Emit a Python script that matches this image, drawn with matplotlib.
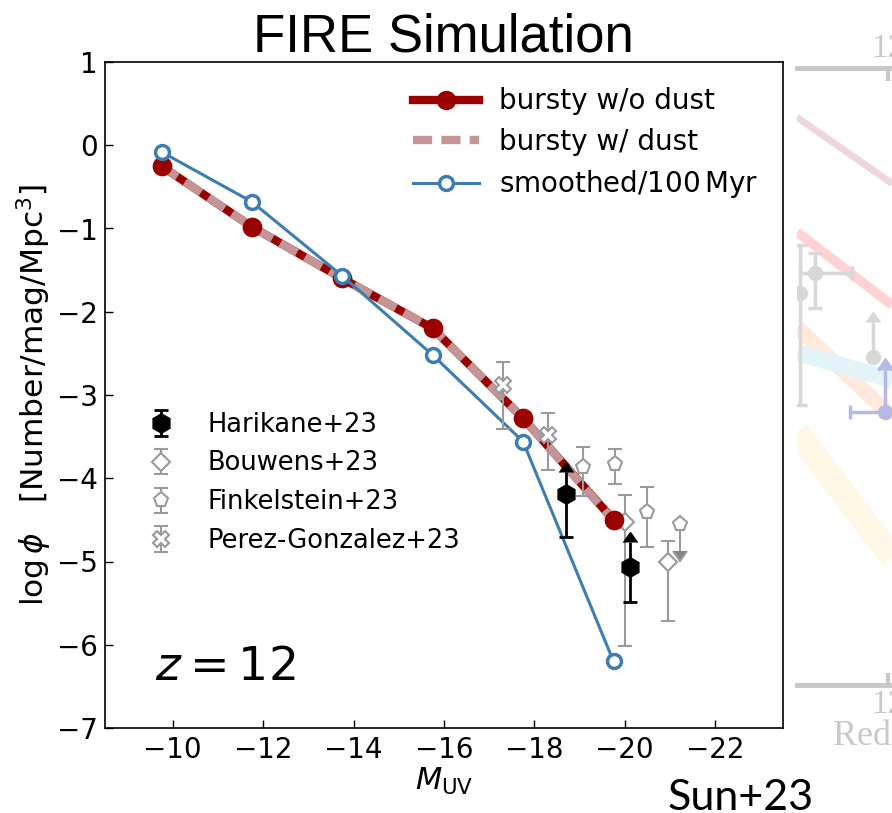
import numpy as np
import matplotlib
matplotlib.use('Agg')
import matplotlib.pyplot as plt

# FIRE model UV luminosity functions at z = 12
muv = [-9.75, -11.75, -13.75, -15.75, -17.75, -19.75]
bursty_nodust = [-0.25, -0.98, -1.60, -2.20, -3.28, -4.50]
bursty_dust = [-0.25, -0.98, -1.60, -2.20, -3.28, -4.51]
smoothed = [-0.08, -0.68, -1.57, -2.52, -3.56, -6.20]

# observations: x, log phi, lower err, upper err
harikane_x = [-18.70, -20.11]
harikane_y = [-4.19, -5.07]
harikane_lo = [0.52, 0.42]
harikane_up = [0.27, 0.30]

bouwens_x = [-20.00, -20.96]
bouwens_y = [-4.52, -5.01]
bouwens_lo = [1.49, 0.70]
bouwens_up = [0.32, 0.26]

finkel_x = [-19.08, -19.79, -20.50, -21.22]
finkel_y = [-3.87, -3.83, -4.41, -4.55]
finkel_lo = [0.34, 0.24, 0.42, 0.32]
finkel_up = [0.25, 0.18, 0.31, 0.0]
finkel_uplim = [False, False, False, True]

pg_x = [-17.30, -18.30]
pg_y = [-2.88, -3.48]
pg_lo = [0.53, 0.42]
pg_up = [0.28, 0.26]

# neighbouring redshift-evolution panel (faded)
bg_bands = [
    ([10.8, 12.05], [-3.56, -4.31], '#eed6e0', 5),
    ([10.8, 12.05], [-4.86, -5.69], '#ffd2d6', 7),
    ([10.8, 12.05], [-5.94, -6.96], '#feeadc', 11),
    ([10.8, 12.05], [-6.23, -6.54], '#e3f3fa', 12),
    ([10.8, 12.05], [-7.13, -8.55], '#fff8e6', 18),
]
bg_pt_x = [10.84, 11.04, 11.80]
bg_pt_y = [-5.55, -5.33, -6.28]
bg_pt_lo = [1.27, 0.39, 0.0]
bg_pt_up = [0.54, 0.23, 0.40]
bg_pt_xlo = [0.0, 0.2]
bg_pt_xup = [0.0, 0.48]
bg_lim_x = [11.96]
bg_lim_y = [-6.90]
bg_lim_up = [0.47]
bg_lim_xerr = [0.46]

fig = plt.figure(figsize=(8.92, 8.13), dpi=100)

# --- faded panel on the right ---
fade = '#c8c8c8'
axb = fig.add_axes([797 / 892, 1 - 685 / 813, 194 / 892, 617 / 813], zorder=0)
axb.set_facecolor('none')
for bx, by, bc, bw in bg_bands:
    axb.plot(bx, by, color=bc, lw=bw, solid_capstyle='butt')
axb.errorbar(bg_pt_x[:2], bg_pt_y[:2], yerr=[bg_pt_lo[:2], bg_pt_up[:2]],
             xerr=[bg_pt_xlo, bg_pt_xup], fmt='o', ms=10, color='#d8d8d8',
             ecolor='#d8d8d8', elinewidth=2.5, capsize=5, capthick=2.5)
axb.errorbar(bg_pt_x[2:], bg_pt_y[2:], yerr=bg_pt_up[2:], lolims=True,
             fmt='o', ms=10, color='#d8d8d8', ecolor='#d8d8d8',
             elinewidth=2.5, capsize=5)
axb.errorbar(bg_lim_x, bg_lim_y, yerr=bg_lim_up, lolims=True,
             xerr=[bg_lim_xerr, [0]], fmt='o', ms=10, color='#b8b8e4',
             ecolor='#b8b8e4', elinewidth=2.5, capsize=5, capthick=2.5)
axb.set_xlim(10.8, 10.8 + 194 / 76)
axb.set_ylim(-10, -3)
for s in ['left', 'right']:
    axb.spines[s].set_visible(False)
for s in ['top', 'bottom']:
    axb.spines[s].set_color(fade)
    axb.spines[s].set_linewidth(3.5)
axb.set_yticks([])
axb.set_xticks([12])
axb.tick_params(axis='x', which='both', direction='in', top=True,
                labeltop=True, length=9, width=3, color=fade,
                labelcolor=fade, labelsize=24, pad=3)
for t in axb.xaxis.get_major_ticks():
    t.label1.set_fontfamily('Liberation Serif')
    t.label2.set_fontfamily('Liberation Serif')
axb.set_xlabel('Redshift', family='Liberation Serif', fontsize=26,
               color=fade, labelpad=0)

# --- main panel ---
ax = fig.add_axes([105 / 892, 1 - 728 / 813, 678 / 892, 666 / 813], zorder=2)

ax.plot(muv, bursty_nodust, color='#990000', lw=6, marker='o', ms=13,
        zorder=3, label='bursty w/o dust')
ax.plot(muv, bursty_dust, color='#c39596', lw=6, dashes=(2.3, 1.1),
        zorder=3.1, label='bursty w/ dust')
ax.plot(muv, bursty_nodust, ls='none', color='#990000', marker='o', ms=13,
        zorder=3.2)
ax.plot(muv, smoothed, color='#3e7db4', lw=2.2, marker='o', ms=10,
        mfc='white', mew=2.5, zorder=3.3, label='smoothed/100$\\,$Myr')

gray = '#9a9a9a'
h1 = ax.errorbar(harikane_x, harikane_y, yerr=[harikane_lo, [0, 0]],
                 fmt='h', ms=14, color='black', ecolor='black',
                 elinewidth=2, capsize=5, capthick=2, zorder=5,
                 label='Harikane+23')
ax.errorbar(harikane_x, harikane_y, yerr=harikane_up, lolims=True,
            fmt='none', color='black', ecolor='black', elinewidth=2,
            capsize=5, zorder=5)
h2 = ax.errorbar(bouwens_x, bouwens_y, yerr=[bouwens_lo, bouwens_up],
                 fmt='D', ms=9, color=gray, mfc='white', mec=gray, mew=1.5,
                 ecolor=gray, elinewidth=1.5, capsize=5, capthick=1.5,
                 zorder=2.5, label='Bouwens+23')
h3 = ax.errorbar(finkel_x, finkel_y, yerr=[finkel_lo, finkel_up],
                 uplims=finkel_uplim, fmt='p', ms=11, color='#858585',
                 mfc='white', mec=gray, mew=1.5, ecolor=gray,
                 elinewidth=1.5, capsize=5, capthick=1.5, zorder=5,
                 label='Finkelstein+23')
h4 = ax.errorbar(pg_x, pg_y, yerr=[pg_lo, pg_up], fmt='X', ms=11,
                 color=gray, mfc='white', mec=gray, mew=1.5, ecolor=gray,
                 elinewidth=1.5, capsize=5, capthick=1.5, zorder=5,
                 label='Perez-Gonzalez+23')

ax.set_xlim(-8.5, -23.5)
ax.set_ylim(-7, 1)
ax.set_xticks(np.arange(-10, -23, -2))
ax.set_yticks(np.arange(-7, 2, 1))
ax.tick_params(direction='in', length=6, width=1, labelsize=20)
ax.tick_params(axis='x', pad=6)
ax.tick_params(axis='y', pad=5)
for s in ax.spines.values():
    s.set_linewidth(1.2)

ax.set_xlabel('$M_{\\rm UV}$', fontsize=22, labelpad=1)
ax.set_ylabel('log$\\,\\phi$   [Number/mag/Mpc$^3$]', fontsize=22.5,
              labelpad=2)

ax.text(0.074, 0.072, '$z=12$', transform=ax.transAxes, fontsize=34,
        va='baseline')

leg1 = ax.legend(handles=ax.get_lines()[:2] + [ax.get_lines()[3]],
                 loc='upper left', bbox_to_anchor=(0.454, 0.962),
                 frameon=False, fontsize=20, handlelength=2.4,
                 handletextpad=0.7, labelspacing=0.45, borderaxespad=0,
                 borderpad=0)
ax.add_artist(leg1)
ax.legend(handles=[h1, h2, h3, h4], loc='upper left',
          bbox_to_anchor=(0.045, 0.475), frameon=False, fontsize=18.5,
          labelspacing=0.5, borderaxespad=0, borderpad=0)

fig.text(0.497, 1 - 52 / 813, 'FIRE Simulation', ha='center',
         va='baseline', family='Liberation Sans', fontsize=38)
fig.text(668 / 892, 0.004, 'Sun+23', ha='left', va='baseline',
         family='Lato', fontsize=31)

fig.savefig('out.png', dpi=100)
